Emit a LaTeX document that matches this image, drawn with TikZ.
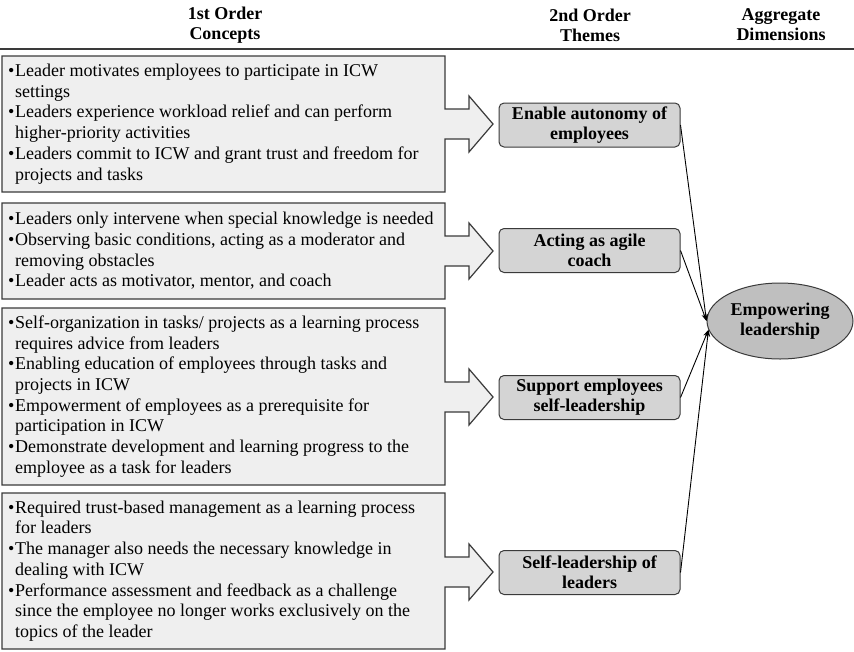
\documentclass[tikz,border=0pt]{standalone}
\usepackage{fontspec}
\setmainfont{Liberation Serif}
\usetikzlibrary{arrows.meta,shapes.geometric}

\definecolor{conceptfill}{HTML}{EFEFEF}
\definecolor{themefill}{HTML}{D4D4D4}
\definecolor{dimfill}{HTML}{BFBFBF}
\definecolor{edgegray}{HTML}{3A3A3A}

% bullet with hanging indent for the concept lists
\newcommand{\bul}{\makebox[7pt][l]{\textbullet}}
\newcommand{\ind}{\hspace*{7pt}}

% box with an arrow on its right side: top, bottom, arrow centre (y)
\newcommand{\arrowbox}[3]{%
  \path[conceptshape] (2,#1) -- (445,#1) -- (445,#3-15) -- (469,#3-15)
    -- (469,#3-28) -- (493,#3) -- (469,#3+28) -- (469,#3+15)
    -- (445,#3+15) -- (445,#2) -- (2,#2) -- cycle;}

\tikzset{
  hdr/.style={font=\fontsize{18}{20}\selectfont\bfseries, align=center, inner sep=0},
  concepttext/.style={font=\fontsize{18}{20.7}\selectfont, align=left, inner sep=0, anchor=west},
  conceptshape/.style={draw=edgegray, fill=conceptfill, line width=1.2pt, line join=miter},
  theme/.style={draw=edgegray, fill=themefill, rounded corners=5pt, line width=1pt,
    minimum width=181pt, minimum height=44pt, inner sep=0, align=center,
    font=\fontsize{18}{20}\selectfont\bfseries},
  dim/.style={ellipse, draw=edgegray, fill=dimfill, line width=1pt,
    minimum width=146pt, minimum height=76pt, inner sep=0, align=center,
    font=\fontsize{18}{20}\selectfont\bfseries},
  link/.style={black, line width=0.9pt, -{Stealth[length=7pt,width=5pt]}}
}

\begin{document}
\begin{tikzpicture}[x=1pt,y=-1pt]
\useasboundingbox (0,0) rectangle (854,651);

% column headings
\node[hdr] (h1) at (225,25) {1st Order\\Concepts};
\node[hdr] (h2) at (590,25) {2nd Order\\Themes};
\node[hdr] (h3) at (781,25) {Aggregate\\Dimensions};
\draw[edgegray, line width=1.8pt] (0,49) -- (854,49);

% first order concepts
\arrowbox{56}{192}{124}
\node[concepttext] (c1) at (8,124) {%
\bul Leader motivates employees to participate in ICW\\
\ind settings\\
\bul Leaders experience workload relief and can perform\\
\ind higher-priority activities\\
\bul Leaders commit to ICW and grant trust and freedom for\\
\ind projects and tasks};

\arrowbox{203}{299}{251}
\node[concepttext] (c2) at (8,251) {%
\bul Leaders only intervene when special knowledge is needed\\
\bul Observing basic conditions, acting as a moderator and\\
\ind removing obstacles\\
\bul Leader acts as motivator, mentor, and coach};

\arrowbox{308}{485}{397}
\node[concepttext] (c3) at (8,396.5) {%
\bul Self-organization in tasks/ projects as a learning process\\
\ind requires advice from leaders\\
\bul Enabling education of employees through tasks and\\
\ind projects in ICW\\
\bul Empowerment of employees as a prerequisite for\\
\ind participation in ICW\\
\bul Demonstrate development and learning progress to the\\
\ind employee as a task for leaders};

\arrowbox{493}{649}{572}
\node[concepttext] (c4) at (8,571) {%
\bul Required trust-based management as a learning process\\
\ind for leaders\\
\bul The manager also needs the necessary knowledge in\\
\ind dealing with ICW\\
\bul Performance assessment and feedback as a challenge\\
\ind since the employee no longer works exclusively on the\\
\ind topics of the leader};

% second order themes
\node[theme] (t1) at (589.5,125) {Enable autonomy of\\employees};
\node[theme] (t2) at (589.5,250.5) {Acting as agile\\coach};
\node[theme] (t3) at (589.5,397.5) {Support employees\\self-leadership};
\node[theme] (t4) at (589.5,572.5) {Self-leadership of\\leaders};

% aggregate dimension
\node[dim] (d1) at (780,321) {Empowering\\leadership};

% links from themes to the dimension
\draw[link] (t1.east) -- (d1.west);
\draw[link] (t2.east) -- (d1.west);
\draw[link] (t3.east) -- (d1.187);
\draw[link] (t4.east) -- (d1.187);
\end{tikzpicture}
\end{document}
